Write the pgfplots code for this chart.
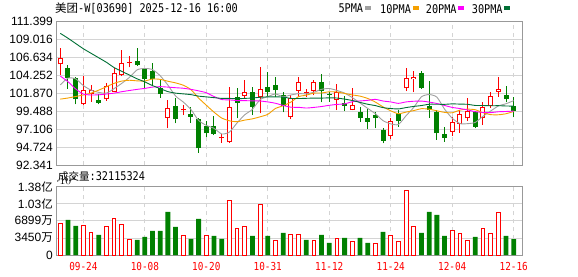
\documentclass[border=0pt]{standalone}
\usepackage{pgfplots}
\pgfplotsset{compat=1.18}
\usepackage{pgfplotstable}
\usepackage{fontspec}
\setmainfont{Liberation Sans}
\newfontfamily\cjk{Noto Sans CJK SC}
\newfontfamily\mono[FakeStretch=0.85]{DejaVu Sans Mono}
\definecolor{kred}{HTML}{FF0000}
\definecolor{kgreen}{HTML}{008000}
\definecolor{maA}{HTML}{A0A0A0}
\definecolor{maB}{HTML}{F5A000}
\definecolor{maC}{HTML}{FF00FF}
\definecolor{maD}{HTML}{006F35}
\definecolor{gridc}{HTML}{D4D4D4}
\definecolor{framec}{HTML}{999999}

% red (rising) candles: x open high low close
\pgfplotstableread{
x o h l c
0 105.73 107.85 104.31 106.52
3 100.41 104.17 100.30 102.27
4 101.78 102.98 100.76 102.35
6 101.07 103.20 100.90 102.85
7 102.09 105.28 102.00 104.53
8 104.31 107.63 104.17 105.86
9 105.95 106.88 105.33 106.10
14 98.63 100.98 97.22 99.87
16 99.62 100.32 98.99 99.75
21 95.88 96.46 95.31 96.00
22 95.35 102.67 95.30 100.01
24 101.56 103.64 101.20 102.00
26 101.34 105.42 99.21 102.40
30 98.68 101.70 98.40 101.20
31 102.22 104.00 101.43 103.33
32 101.88 102.45 101.43 102.00
33 102.18 103.64 101.65 103.33
36 100.98 103.11 99.65 102.09
38 99.65 102.53 99.60 100.32
43 96.20 98.55 95.75 98.19
45 102.53 105.28 102.18 103.95
46 103.73 104.84 102.00 104.09
51 96.77 98.77 96.24 98.01
52 97.80 99.65 96.64 99.08
53 98.55 101.20 98.19 99.57
55 98.55 100.67 97.66 100.01
56 100.23 102.00 99.96 101.52
57 102.09 104.09 101.43 102.40
}\redk

% green (falling) candles
\pgfplotstableread{
x o h l c
1 105.19 105.64 102.45 103.95
2 103.86 104.09 100.41 101.07
5 100.98 101.83 100.41 100.63
10 106.21 107.94 105.50 105.64
11 105.19 105.30 102.62 103.77
12 104.84 105.95 102.85 103.77
13 102.53 103.64 101.30 101.78
15 100.19 101.29 97.88 98.41
17 99.12 100.10 97.97 98.77
18 98.50 98.60 93.98 94.56
19 97.53 98.19 96.02 96.55
20 97.53 98.86 96.33 96.46
23 101.43 102.53 98.55 100.63
25 102.00 102.76 98.99 100.10
27 102.76 104.66 101.43 102.09
28 102.98 104.00 101.43 102.31
29 101.65 102.09 99.35 100.23
34 103.42 104.40 100.67 102.18
35 101.82 102.09 100.76 101.70
37 100.63 101.56 99.57 100.19
39 99.43 100.10 98.10 98.63
40 98.55 99.74 97.13 98.10
41 98.99 99.43 97.22 98.55
42 97.00 97.22 95.22 95.58
44 99.21 99.65 97.44 98.24
47 104.53 104.84 102.45 102.62
48 100.23 103.51 98.63 99.65
49 99.43 99.65 95.67 96.55
50 96.46 97.35 95.44 95.97
54 99.43 99.52 97.22 97.44
58 101.65 102.89 100.67 101.07
59 100.19 101.34 98.68 99.52
}\greenk

% moving averages
\pgfplotstableread{
x m5 m10 m20 m30
0 103.00 101.10 104.17 109.85
1 103.90 101.25 103.42 109.20
2 103.80 101.45 102.45 108.50
3 102.90 101.65 101.78 107.80
4 102.30 101.90 101.65 107.20
5 102.00 102.30 101.68 106.60
6 101.90 102.75 101.78 106.00
7 102.50 103.20 101.90 105.30
8 103.20 103.50 102.09 104.80
9 104.00 103.61 102.25 104.30
10 105.00 103.53 102.40 103.80
11 105.18 103.51 102.53 103.40
12 105.03 103.78 102.70 102.90
13 104.21 103.73 102.76 102.50
14 102.97 103.48 102.70 102.10
15 101.52 103.26 102.62 101.90
16 100.72 102.95 102.55 101.80
17 99.72 102.37 102.40 101.70
18 98.27 101.24 102.20 101.50
19 97.61 100.29 101.95 101.40
20 97.22 99.37 101.45 101.30
21 96.47 98.59 101.05 101.20
22 96.72 98.22 101.00 101.20
23 97.93 98.10 100.91 101.15
24 99.02 98.31 100.90 101.20
25 99.75 98.48 100.87 101.25
26 101.03 98.75 100.85 101.35
27 101.44 99.08 100.73 101.40
28 101.78 99.86 100.55 101.40
29 101.43 100.22 100.26 101.37
30 101.65 100.70 100.03 101.20
31 101.83 101.43 100.01 101.18
32 101.81 101.63 99.92 101.21
33 102.02 101.90 100.00 101.24
34 102.41 101.92 100.12 101.24
35 102.51 102.08 100.28 101.27
36 102.26 102.05 100.40 101.25
37 101.90 101.86 100.47 101.10
38 101.30 101.66 100.76 100.92
39 100.59 101.50 100.86 100.67
40 99.87 101.19 100.94 100.42
41 99.16 100.71 101.07 100.24
42 98.24 100.07 100.85 99.97
43 97.81 99.55 100.73 99.85
44 97.73 99.16 100.54 99.80
45 98.90 99.38 100.73 99.98
46 100.01 99.58 100.82 100.13
47 101.42 99.83 100.84 100.25
48 101.71 99.76 100.71 100.42
49 101.37 99.55 100.52 100.42
50 99.78 99.34 100.26 100.41
51 98.56 99.29 100.00 100.47
52 97.85 99.64 99.85 100.44
53 97.84 99.77 99.66 100.41
54 98.01 99.69 99.43 100.26
55 98.82 99.30 99.34 100.25
56 99.52 99.04 99.31 100.22
57 100.19 99.02 99.42 100.23
58 100.49 99.16 99.46 100.19
59 100.90 99.46 99.51 100.17
}\mas

% volume (unit: 10^4 shares), up days
\pgfplotstableread{
x v
0 6426
3 6020
4 4600
6 5817
7 7305
8 6223
9 3179
16 3855
19 3991
22 10958
23 5411
24 5682
26 10281
28 2976
30 4194
31 4194
33 2976
36 3382
38 2773
41 2367
43 3855
44 2773
45 12987
46 5817
51 5005
52 4397
53 2976
55 5276
56 4261
57 8658
}\redv

% volume, down days
\pgfplotstableread{
x v
1 7102
2 5885
5 4058
10 3044
11 3653
12 4870
13 4870
14 8726
15 5682
17 3247
18 7305
20 3855
21 3247
25 3855
27 3855
29 4464
32 3044
34 4058
35 2435
37 3450
39 3450
40 2435
42 4667
47 4464
48 8726
49 8117
50 3855
54 3653
58 3855
59 3212
}\greenv

\pgfplotsset{
  kbase/.style={
    scale only axis, width=466pt,
    xmin=-0.56, xmax=60.08,
    axis line style={draw=framec, line width=0.9pt},
    xtick={3,11,19,27,35,43,51,59},
    major tick length=0pt,
    xmajorgrids, ymajorgrids,
    x grid style={draw=gridc, line width=0.8pt, dash pattern=on 4pt off 4pt},
    y grid style={draw=gridc, line width=0.8pt},
    yticklabel style={font=\fontsize{12}{12}\selectfont, anchor=east, inner sep=0pt, xshift=-3pt},
    /pgf/number format/assume math mode=true,
  },
  ebar/.style n args={2}{draw=none, mark=none, forget plot,
    error bars/.cd, y dir=plus, y explicit, error mark=none,
    error bar style={draw=#1, line width=#2, solid}},
}

\begin{document}
\begin{tikzpicture}[x=1pt,y=1pt]
\useasboundingbox (0,0) rectangle (578,276);

% ---------------- price panel ----------------
\begin{axis}[kbase, at={(56pt,111pt)}, anchor=south west, height=143.3pt,
  ymin=92.341, ymax=111.399,
  ytick={92.341,94.724,97.106,99.488,101.870,104.252,106.634,109.016,111.399},
  yticklabels={92.341,94.724,97.106,99.488,101.870,104.252,106.634,109.016,111.399},
  xticklabels={},
]
% wicks
\addplot[ebar={kred}{1pt}] table[x=x, y=l, y error plus expr=\thisrow{h}-\thisrow{l}] {\redk};
\addplot[ebar={kgreen}{1pt}] table[x=x, y=l, y error plus expr=\thisrow{h}-\thisrow{l}] {\greenk};
% bodies
\addplot[ebar={kred}{5pt}] table[x=x, y=o, y error plus expr=\thisrow{c}-\thisrow{o}] {\redk};
\addplot[ebar={white}{3pt}] table[x=x, y expr=\thisrow{o}+0.14, y error plus expr={max(\thisrow{c}-\thisrow{o}-0.28,0)}] {\redk};
\addplot[ebar={kgreen}{5pt}] table[x=x, y=c, y error plus expr=\thisrow{o}-\thisrow{c}] {\greenk};
% moving averages
\addplot[maA, line width=0.9pt, mark=none, smooth, tension=0.4] table[x=x, y=m5] {\mas};
\addplot[maB, line width=0.9pt, mark=none, smooth, tension=0.4] table[x=x, y=m10] {\mas};
\addplot[maC, line width=0.9pt, mark=none, smooth, tension=0.4] table[x=x, y=m20] {\mas};
\addplot[maD, line width=0.9pt, mark=none, smooth, tension=0.4] table[x=x, y=m30] {\mas};
\end{axis}

% ---------------- volume panel ----------------
\begin{axis}[kbase, at={(56pt,21pt)}, anchor=south west, height=68.3pt,
  ymin=0, ymax=13798,
  ytick={0,3449.5,6899,10348.5,13798},
  yticklabels={0,3450{\cjk\fontsize{11.5}{12}\selectfont 万},6899{\cjk\fontsize{11.5}{12}\selectfont 万},1.03{\cjk\fontsize{11.5}{12}\selectfont 亿},1.38{\cjk\fontsize{11.5}{12}\selectfont 亿}},
  xticklabels={09-24,10-08,10-20,10-31,11-12,11-24,12-04,12-16},
  xticklabel style={font=\mono\fontsize{11}{11}\selectfont, text=kred, anchor=center, inner sep=0pt, yshift=-11pt},
]
\addplot[ybar, bar shift=0pt, bar width=3.8pt, draw=kred, fill=white, line width=1pt] table[x=x, y=v] {\redv};
\addplot[ybar, bar shift=0pt, bar width=4.8pt, draw=none, fill=kgreen] table[x=x, y=v] {\greenv};
\end{axis}

% ---------------- texts ----------------
\node[anchor=west, inner sep=0pt] at (55,267.3)
  {{\cjk\fontsize{11.5}{12}\selectfont 美团}{\mono\fontsize{12}{12}\selectfont -W[03690] 2025-12-16 16:00}};
\node[anchor=west, inner sep=0pt] at (58,99.3)
  {{\cjk\fontsize{10.5}{12}\selectfont 成交量}{\mono\fontsize{12}{12}\selectfont :32115324}};

\node[anchor=west, inner sep=0pt, font=\mono\fontsize{12}{12}\selectfont] at (338.3,267.3) {5PMA};
\fill[maA] (365,266) rectangle (370.7,270);
\node[anchor=west, inner sep=0pt, font=\mono\fontsize{12}{12}\selectfont] at (380,267.3) {10PMA};
\fill[maB] (412.7,266) rectangle (418.7,270);
\node[anchor=west, inner sep=0pt, font=\mono\fontsize{12}{12}\selectfont] at (425.7,267.3) {20PMA};
\fill[maC] (458,266) rectangle (464,270);
\node[anchor=west, inner sep=0pt, font=\mono\fontsize{12}{12}\selectfont] at (471.7,267.3) {30PMA};
\fill[maD] (504.3,266) rectangle (510,270);
\end{tikzpicture}
\end{document}
